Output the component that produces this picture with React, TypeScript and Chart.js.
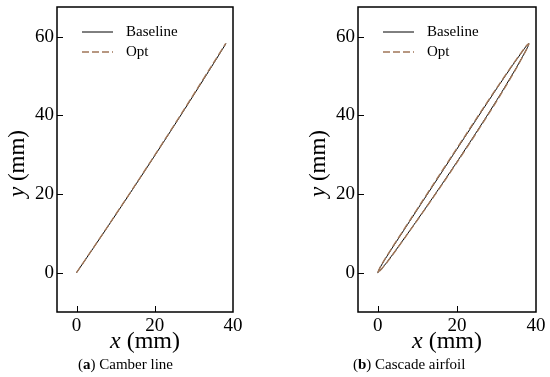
import React, { useEffect, useRef } from 'react';
import { Chart, registerables } from 'chart.js';

Chart.register(...registerables);

// ---- data (mm) ----
const SERIES_NAMES = ['Baseline', 'Opt'];
const X_TICK_LABELS = [0, 20, 40];
const Y_TICK_LABELS = [0, 20, 40, 60];

const camberBaseX = [0, 3.94, 7.85, 11.74, 15.6, 19.43, 23.24, 27.02, 30.77, 34.5, 38.2];
const camberBaseY = [0, 5.74, 11.5, 17.28, 23.07, 28.88, 34.71, 40.56, 46.42, 52.3, 58.2];
const camberOptX = [0, 3.92, 7.83, 11.72, 15.57, 19.4, 23.2, 26.97, 30.7, 34.42, 38.15];
const camberOptY = [0, 5.76, 11.53, 17.32, 23.11, 28.93, 34.77, 40.63, 46.5, 52.38, 58.25];

const airfoilBaseX = [0, 0.58, 1.64, 3.5, 7.29, 11.09, 14.89, 18.68, 22.49, 26.29, 30.12, 34.02, 36.43, 37.65, 38.2,
  37.99, 37.01, 34.98, 31.42, 27.75, 23.99, 20.18, 16.31, 12.39, 8.41, 4.38, 2.31, 1.0, 0];
const airfoilBaseY = [0, 1.28, 3.09, 6.03, 11.87, 17.71, 23.54, 29.37, 35.2, 41.04, 46.85, 52.62, 56.03, 57.73, 58.2,
  57.51, 55.65, 51.98, 46.0, 40.08, 34.22, 28.39, 22.6, 16.85, 11.13, 5.45, 2.65, 1.01, 0];
const airfoilOptX = [0, 0.56, 1.6, 3.45, 7.22, 11.01, 14.8, 18.59, 22.4, 26.21, 30.05, 33.97, 36.4, 37.63, 38.2,
  37.99, 37.03, 35.03, 31.49, 27.82, 24.05, 20.23, 16.35, 12.42, 8.43, 4.4, 2.33, 1.01, 0];
const airfoilOptY = [0, 1.3, 3.12, 6.07, 11.92, 17.77, 23.61, 29.44, 35.27, 41.1, 46.9, 52.66, 56.06, 57.75, 58.2,
  57.5, 55.62, 51.93, 45.93, 40.01, 34.15, 28.33, 22.55, 16.81, 11.1, 5.43, 2.63, 1.0, 0];

const OPT_COLOR = 'rgb(160,118,88)';
const FONT = "'Liberation Serif', 'Times New Roman', serif";

const toPoints = (xs: number[], ys: number[]) => xs.map((x, i) => ({ x, y: ys[i] }));

const decor = {
  id: 'decor',
  afterDraw(chart: any, _args: any, opts: any) {
    const ctx = chart.ctx as CanvasRenderingContext2D;
    const { left, right, top, bottom } = chart.chartArea;
    const xs = chart.scales.x;
    const ys = chart.scales.y;
    ctx.save();
    // inward ticks
    ctx.strokeStyle = '#000';
    ctx.lineWidth = 1;
    ctx.setLineDash([]);
    xs.ticks.forEach((t: any) => {
      if (Math.abs(t.value % 5) > 1e-6) return;
      if (t.value <= xs.min || t.value >= xs.max) return;
      const px = Math.round(xs.getPixelForValue(t.value)) + 0.5;
      const len = X_TICK_LABELS.includes(t.value) ? 6 : 3;
      ctx.beginPath();
      ctx.moveTo(px, bottom);
      ctx.lineTo(px, bottom - len);
      ctx.stroke();
    });
    ys.ticks.forEach((t: any) => {
      if (Math.abs(t.value % 5) > 1e-6) return;
      if (t.value <= ys.min || t.value >= ys.max) return;
      const py = Math.round(ys.getPixelForValue(t.value)) + 0.5;
      const len = Y_TICK_LABELS.includes(t.value) ? 6 : 3;
      ctx.beginPath();
      ctx.moveTo(left, py);
      ctx.lineTo(left + len, py);
      ctx.stroke();
    });
    // frame
    ctx.lineWidth = 1.5;
    ctx.strokeRect(left, top, right - left, bottom - top);

    // legend
    ctx.textBaseline = 'middle';
    ctx.textAlign = 'left';
    ctx.font = `15px ${FONT}`;
    chart.data.datasets.forEach((ds: any, i: number) => {
      const y = top + 25 + i * 20;
      ctx.strokeStyle = ds.borderColor;
      ctx.lineWidth = ds.borderWidth;
      ctx.setLineDash(ds.borderDash || []);
      ctx.beginPath();
      ctx.moveTo(left + 25, y);
      ctx.lineTo(left + 56, y);
      ctx.stroke();
      ctx.setLineDash([]);
      ctx.fillStyle = '#000';
      ctx.fillText(ds.label, left + 69, y);
    });

    // axis titles
    const drawMixed = (parts: [string, string][], cx: number, cy: number) => {
      let w = 0;
      parts.forEach(([f, s]) => { ctx.font = f; w += ctx.measureText(s).width; });
      let x = cx - w / 2;
      parts.forEach(([f, s]) => { ctx.font = f; ctx.fillText(s, x, cy); x += ctx.measureText(s).width; });
    };
    ctx.fillStyle = '#000';
    ctx.textBaseline = 'middle';
    drawMixed([[`italic 24px ${FONT}`, 'x'], [`24px ${FONT}`, ' (mm)']], (left + right) / 2, 342);
    ctx.save();
    ctx.translate(left - 39, (top + bottom) / 2 + 4);
    ctx.rotate(-Math.PI / 2);
    drawMixed([[`italic 23px ${FONT}`, 'y'], [`23px ${FONT}`, ' (mm)']], 0, 0);
    ctx.restore();

    // caption
    let cx = 78;
    const cy = 365;
    const parts: [string, string][] = [[`15px ${FONT}`, '('], [`bold 15px ${FONT}`, opts.tag], [`15px ${FONT}`, ') ' + opts.title]];
    parts.forEach(([f, s]) => { ctx.font = f; ctx.fillText(s, cx, cy); cx += ctx.measureText(s).width; });
    ctx.restore();
  },
};

function Panel(props: { left: number; frameLeft: number; padRight: number; tag: string; title: string; base: any[]; opt: any[] }) {
  const ref = useRef<HTMLCanvasElement>(null);
  useEffect(() => {
    const chart = new Chart(ref.current as HTMLCanvasElement, {
      type: 'scatter',
      data: {
        datasets: [
          { label: SERIES_NAMES[0], data: props.base, showLine: true, borderColor: '#000', borderWidth: 1, pointRadius: 0, tension: 0.15, order: 1 } as any,
          { label: SERIES_NAMES[1], data: props.opt, showLine: true, borderColor: OPT_COLOR, borderWidth: 1.4, borderDash: [7, 3], pointRadius: 0, tension: 0.15, order: 0 } as any,
        ],
      },
      options: {
        animation: false,
        responsive: false,
        events: [],
        layout: { padding: { top: 7, right: props.padRight, left: 0, bottom: 0 } },
        plugins: { legend: { display: false }, tooltip: { enabled: false }, decor: { tag: props.tag, title: props.title } } as any,
        scales: {
          x: {
            type: 'linear', min: -5, max: 40,
            grid: { display: false, drawTicks: false },
            border: { display: false },
            ticks: {
              stepSize: 5, autoSkip: false, maxRotation: 0, padding: 3, color: '#000',
              font: { family: FONT, size: 19 },
              callback: (v: any) => (X_TICK_LABELS.includes(Number(v)) ? String(v) : null),
            },
            afterFit: (s: any) => { s.height = 65; s.paddingLeft = 0; s.paddingRight = 0; },
          },
          y: {
            type: 'linear', min: -10, max: 67.5,
            grid: { display: false, drawTicks: false },
            border: { display: false },
            ticks: {
              stepSize: 5, autoSkip: false, padding: 3, color: '#000',
              font: { family: FONT, size: 19 },
              callback: (v: any) => (Y_TICK_LABELS.includes(Number(v)) ? String(v) : null),
            },
            afterFit: (s: any) => { s.width = props.frameLeft; s.paddingTop = 0; s.paddingBottom = 0; },
          },
        } as any,
      },
      plugins: [decor as any],
    });
    return () => chart.destroy();
  }, []);
  return <canvas ref={ref} width={275} height={377} style={{ position: 'absolute', left: props.left, top: 0, width: 275, height: 377 }} />;
}

export default function App() {
  return (
    <div style={{ position: 'fixed', left: 0, top: 0, width: 550, height: 377, background: '#fff', overflow: 'hidden' }}>
      <Panel left={0} frameLeft={57} padRight={42} tag="a" title="Camber line"
        base={toPoints(camberBaseX, camberBaseY)} opt={toPoints(camberOptX, camberOptY)} />
      <Panel left={275} frameLeft={83} padRight={14} tag="b" title="Cascade airfoil"
        base={toPoints(airfoilBaseX, airfoilBaseY)} opt={toPoints(airfoilOptX, airfoilOptY)} />
    </div>
  );
}
